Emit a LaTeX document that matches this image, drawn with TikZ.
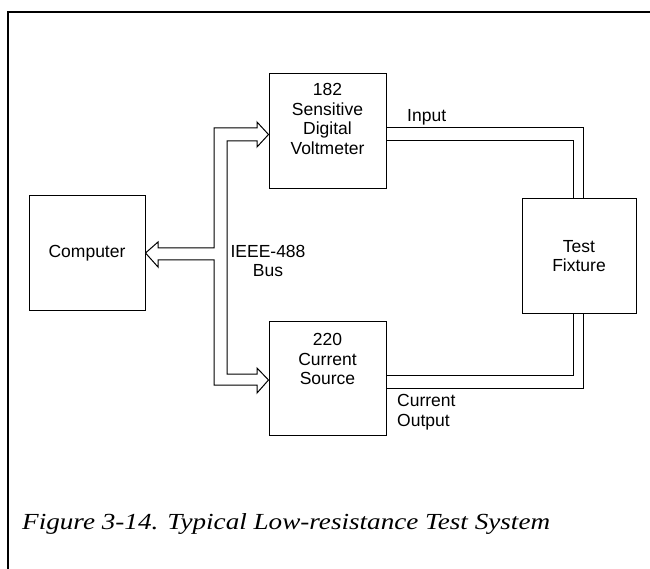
\documentclass[tikz,border=0pt]{standalone}
\usepackage{fontspec}
\setmainfont{Liberation Sans}
\newfontfamily\capfont{Liberation Serif}
\begin{document}
\begin{tikzpicture}[x=1pt,y=-1pt,
  box/.style={draw, line width=1pt, inner sep=0pt},
  lbl/.style={font=\fontsize{17.5}{19.5}\selectfont, align=center, inner sep=0pt},
  wire/.style={line width=1pt},
  frame/.style={line width=2pt},
  bus/.style={draw, fill=white, line width=1pt, line join=miter}]
\useasboundingbox (0,0) rectangle (650,569);
% frame
\draw[frame] (650,12) -- (8,12) -- (8,569);
% boxes
\node[box, minimum width=116pt, minimum height=114pt] (comp) at (87,253) {};
\node[box, minimum width=117pt, minimum height=115pt] (vm) at (327.5,131.5) {};
\node[box, minimum width=117pt, minimum height=114pt] (cs) at (327.5,378) {};
\node[box, minimum width=114pt, minimum height=114pt] (fx) at (579,256) {};
% box texts
\node[lbl] (tcomp) at (comp.center) {Computer};
\node[lbl] (tvm) at (327.5,119) {182\\Sensitive\\Digital\\Voltmeter};
\node[lbl] (tcs) at (327.5,359) {220\\Current\\Source};
\node[lbl] (tfx) at (fx.center) {Test\\Fixture};
% other labels
\node[lbl, anchor=west] (tin) at (407,117) {Input};
\node[lbl, anchor=west, align=left] (tco) at (397,412) {Current\\Output};
\node[lbl] (tbus) at (268,261) {IEEE-488\\Bus};
% wires
\draw[wire] (vm.east |- 0,128) -- (583,128) -- (583,0 |- fx.north);
\draw[wire] (vm.east |- 0,141) -- (573,141) -- (573,0 |- fx.north);
\draw[wire] (cs.east |- 0,375) -- (573,375) -- (573,0 |- fx.south);
\draw[wire] (cs.east |- 0,388) -- (583,388) -- (583,0 |- fx.south);
% bus (hollow arrows)
\coordinate (tipC) at (comp.east);
\coordinate (tipV) at (vm.west |- 0,134.5);
\coordinate (tipS) at (cs.west |- 0,380);
\draw[bus] (tipC) -- (158,242) -- (158,248) -- (214,248) -- (214,128)
  -- (257,128) -- (257,122) -- (tipV) -- (257,147) -- (257,141)
  -- (227,141) -- (227,374) -- (257,374) -- (257,368) -- (tipS)
  -- (257,393) -- (257,385) -- (214,385) -- (214,260) -- (158,260)
  -- (158,267) -- cycle;
% caption
\node[anchor=west, inner sep=0pt, font=\capfont\itshape\fontsize{23}{26}\selectfont] (cap) at (22,524) {\scalebox{1.18}[1]{Figure 3-14. Typical Low-resistance Test System}};
\end{tikzpicture}
\end{document}
